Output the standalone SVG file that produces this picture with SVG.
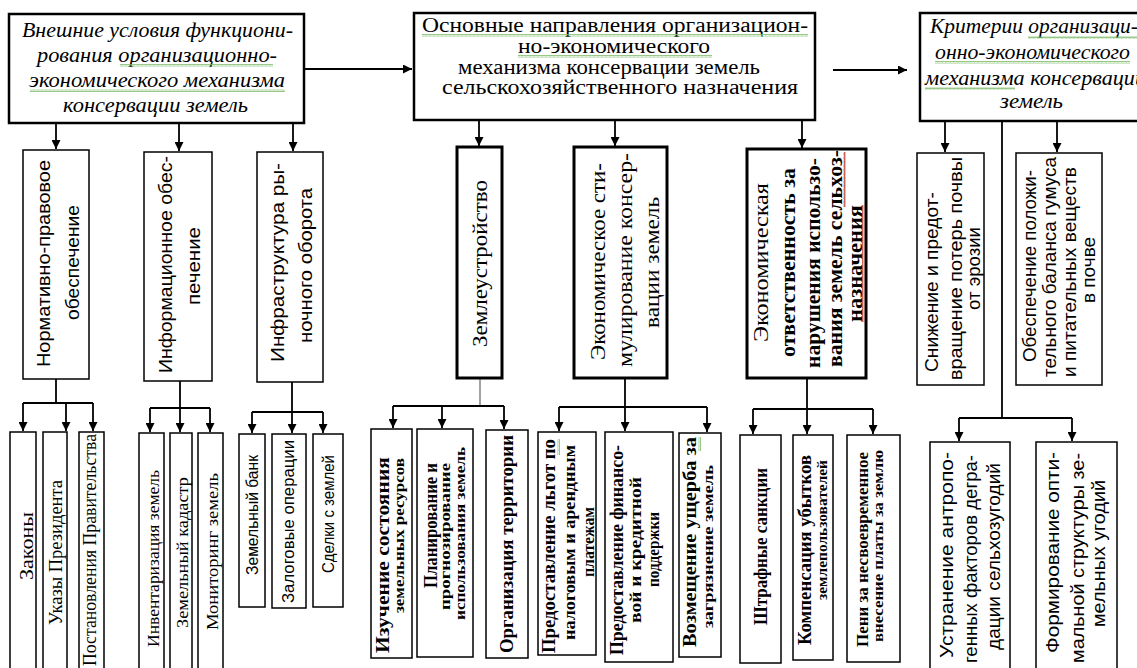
<svg xmlns="http://www.w3.org/2000/svg" width="1137" height="668" viewBox="0 0 1137 668">
<defs>
<style>
.bx{fill:#fff;stroke:#000;stroke-width:1.5}
.bt{fill:#fff;stroke:#000;stroke-width:2.5}
.bm{fill:#fff;stroke:#000;stroke-width:3}
.cn line{stroke:#000;stroke-width:1.8;fill:none}
.cn .g{stroke:#666;stroke-width:1.2}
.ar{marker-end:url(#ah)}
text{text-anchor:start;fill:#000}
.it{font-family:"Liberation Serif","Times New Roman",serif;font-style:italic;font-size:20px}
.sr{font-family:"Liberation Serif","Times New Roman",serif;font-style:normal;font-size:20px}
.ss{font-family:"Liberation Sans",Arial,sans-serif;font-size:19px}
.v{dominant-baseline:central}
.b{font-weight:bold}
.m{text-anchor:middle}
</style>
<marker id="ah" viewBox="0 0 10 10" refX="10" refY="5" markerWidth="9" markerHeight="9" markerUnits="userSpaceOnUse" orient="auto"><path d="M0,0 L10,5 L0,10 z" fill="#000"/></marker>
<pattern id="wg" width="4" height="3" patternUnits="userSpaceOnUse"><path d="M0,2.5 L1,0.5 L2,2.5 L3,0.5 L4,2.5" stroke="#7cba6a" stroke-width="0.8" fill="none"/></pattern>
<pattern id="wgv" width="3" height="4" patternUnits="userSpaceOnUse"><path d="M0.5,0 L2.5,1 L0.5,2 L2.5,3 L0.5,4" stroke="#7cba6a" stroke-width="0.8" fill="none"/></pattern>
<pattern id="wrv" width="3" height="4" patternUnits="userSpaceOnUse"><path d="M0.5,0 L2.5,1 L0.5,2 L2.5,3 L0.5,4" stroke="#c0392b" stroke-width="0.8" fill="none"/></pattern>
</defs>
<rect width="1137" height="668" fill="#fff"/>

<g id="connectors" class="cn">
<line class="ar" x1="304" y1="69" x2="412" y2="69"/>
<line class="ar" x1="833" y1="70" x2="907" y2="70"/>
<line class="ar" x1="56" y1="123" x2="56" y2="149"/>
<line class="ar" x1="179" y1="123" x2="179" y2="151"/>
<line class="ar" x1="293" y1="123" x2="293" y2="151"/>
<line class="ar" x1="479" y1="120" x2="479" y2="146"/>
<line class="ar" x1="615" y1="120" x2="615" y2="146"/>
<line class="ar" x1="802" y1="120" x2="802" y2="148"/>
<line class="ar" x1="945" y1="121" x2="945" y2="152"/>
<line class="ar" x1="1057" y1="121" x2="1057" y2="152"/>
<line x1="1002" y1="121" x2="1002" y2="418"/>
<line x1="959" y1="418" x2="1072" y2="418"/>
<line class="ar" x1="959" y1="418" x2="959" y2="441"/>
<line class="ar" x1="1072" y1="418" x2="1072" y2="441"/>
<line x1="56" y1="379" x2="56" y2="403"/>
<line x1="23" y1="403" x2="93" y2="403"/>
<line class="ar" x1="23" y1="403" x2="23" y2="431"/>
<line class="ar" x1="66" y1="403" x2="66" y2="431"/>
<line class="ar" x1="93" y1="403" x2="93" y2="431"/>
<line x1="180" y1="381" x2="180" y2="408"/>
<line x1="150" y1="408" x2="210" y2="408"/>
<line class="ar" x1="150" y1="408" x2="150" y2="432"/>
<line class="ar" x1="180" y1="408" x2="180" y2="432"/>
<line class="ar" x1="210" y1="408" x2="210" y2="432"/>
<line x1="292" y1="382" x2="292" y2="412"/>
<line x1="252" y1="412" x2="323" y2="412"/>
<line class="ar" x1="252" y1="412" x2="252" y2="433"/>
<line class="ar" x1="292" y1="412" x2="292" y2="433"/>
<line class="ar" x1="323" y1="412" x2="323" y2="433"/>
<line class="g" x1="480" y1="378" x2="480" y2="406"/>
<line x1="393" y1="406" x2="504" y2="406"/>
<line class="ar" x1="393" y1="406" x2="393" y2="428"/>
<line class="ar" x1="442" y1="406" x2="442" y2="428"/>
<line class="ar" x1="504" y1="406" x2="504" y2="429"/>
<line x1="625" y1="378" x2="625" y2="407"/>
<line x1="559" y1="407" x2="707" y2="407"/>
<line class="ar" x1="559" y1="407" x2="559" y2="431"/>
<line class="ar" x1="625" y1="407" x2="625" y2="431"/>
<line class="ar" x1="707" y1="407" x2="707" y2="432"/>
<line x1="807" y1="378" x2="807" y2="409"/>
<line x1="753" y1="409" x2="873" y2="409"/>
<line class="ar" x1="753" y1="409" x2="753" y2="434"/>
<line class="ar" x1="807" y1="409" x2="807" y2="434"/>
<line class="ar" x1="873" y1="409" x2="873" y2="434"/>
</g>

<g id="n-external">
<rect class="bt" x="9" y="14" width="295" height="109"/>
<text class="it" x="22" y="37" textLength="271" lengthAdjust="spacingAndGlyphs">Внешние условия функциони-</text>
<text class="it" x="37" y="62" textLength="240" lengthAdjust="spacingAndGlyphs">рования организационно-</text>
<text class="it" x="29" y="87" textLength="256" lengthAdjust="spacingAndGlyphs">экономического механизма</text>
<text class="it" x="63" y="112" textLength="185" lengthAdjust="spacingAndGlyphs">консервации земель</text>
<rect x="120" y="64" width="153" height="3" fill="url(#wg)"/>
<rect x="30" y="89" width="255" height="3" fill="url(#wg)"/>
</g>

<g id="n-main">
<rect class="bt" x="414" y="13" width="401" height="107"/>
<text class="sr" x="422" y="32" textLength="386" lengthAdjust="spacingAndGlyphs">Основные направления организацион-</text>
<text class="sr" x="518" y="53" textLength="192" lengthAdjust="spacingAndGlyphs">но-экономического</text>
<text class="sr" x="458" y="74" textLength="302" lengthAdjust="spacingAndGlyphs">механизма консервации земель</text>
<text class="sr" x="442" y="94" textLength="356" lengthAdjust="spacingAndGlyphs">сельскохозяйственного назначения</text>
<rect x="422" y="34" width="386" height="3" fill="url(#wg)"/>
<rect x="518" y="55" width="194" height="3" fill="url(#wg)"/>
</g>

<g id="n-criteria">
<rect class="bt" x="920" y="13" width="230" height="108"/>
<text class="it" x="930" y="33" textLength="208" lengthAdjust="spacingAndGlyphs">Критерии организаци-</text>
<text class="it" x="935" y="59" textLength="195" lengthAdjust="spacingAndGlyphs">онно-экономического</text>
<text class="it" x="925" y="85" textLength="221" lengthAdjust="spacingAndGlyphs">механизма консервации</text>
<text class="it" x="1000" y="108" textLength="63" lengthAdjust="spacingAndGlyphs">земель</text>
<rect x="1028" y="36" width="110" height="3" fill="url(#wg)"/>
<rect x="935" y="61" width="195" height="3" fill="url(#wg)"/>
<rect x="925" y="87" width="90" height="3" fill="url(#wg)"/>
</g>

<g id="n-norm">
<rect class="bx" x="23" y="150" width="66" height="229"/>
<text class="ss v" transform="translate(43,367) rotate(-90)" textLength="207" lengthAdjust="spacingAndGlyphs">Нормативно-правовое</text>
<text class="ss v" transform="translate(72,320) rotate(-90)" textLength="115" lengthAdjust="spacingAndGlyphs">обеспечение</text>
</g>
<g id="n-info">
<rect class="bx" x="144" y="152" width="68" height="229"/>
<text class="ss v" transform="translate(165,373) rotate(-90)" textLength="217" lengthAdjust="spacingAndGlyphs">Информационное обес-</text>
<text class="ss v" transform="translate(193,305) rotate(-90)" textLength="78" lengthAdjust="spacingAndGlyphs">печение</text>
</g>
<g id="n-infra">
<rect class="bx" x="257" y="152" width="66" height="230"/>
<text class="ss v" transform="translate(277,362) rotate(-90)" textLength="199" lengthAdjust="spacingAndGlyphs">Инфраструктура ры-</text>
<text class="ss v" transform="translate(305,343) rotate(-90)" textLength="155" lengthAdjust="spacingAndGlyphs">ночного оборота</text>
</g>

<g id="n-zemleustr">
<rect class="bm" x="457" y="147" width="45" height="231"/>
<text class="sr v" style="font-size:21px" transform="translate(480,347) rotate(-90)" textLength="167" lengthAdjust="spacingAndGlyphs">Землеустройство</text>
</g>
<g id="n-stim">
<rect class="bm" x="574" y="147" width="93" height="231"/>
<text class="sr v" transform="translate(598,360) rotate(-90)" textLength="197" lengthAdjust="spacingAndGlyphs">Экономическое сти-</text>
<text class="sr v" transform="translate(625,367) rotate(-90)" textLength="214" lengthAdjust="spacingAndGlyphs">мулирование консер-</text>
<text class="sr v" transform="translate(652,328) rotate(-90)" textLength="131" lengthAdjust="spacingAndGlyphs">вации земель</text>
</g>
<g id="n-otv">
<rect class="bm" x="747" y="149" width="119" height="229"/>
<text class="sr v" transform="translate(761,342) rotate(-90)" textLength="159" lengthAdjust="spacingAndGlyphs">Экономическая</text>
<text class="sr v b" transform="translate(788,357) rotate(-90)" textLength="189" lengthAdjust="spacingAndGlyphs">ответственность за</text>
<text class="sr v b" transform="translate(813,368) rotate(-90)" textLength="210" lengthAdjust="spacingAndGlyphs">нарушения использо-</text>
<text class="sr v b" transform="translate(835,367) rotate(-90)" textLength="217" lengthAdjust="spacingAndGlyphs">вания земель сельхоз-</text>
<text class="sr v b" transform="translate(855,322) rotate(-90)" textLength="117" lengthAdjust="spacingAndGlyphs">назначения</text>
<rect x="843" y="152" width="3" height="55" fill="url(#wrv)"/>
<rect x="862" y="205" width="3" height="117" fill="url(#wrv)"/>
</g>

<g id="n-erosion">
<rect class="bx" x="917" y="153" width="67" height="232"/>
<text class="ss v" transform="translate(931,372) rotate(-90)" textLength="180" lengthAdjust="spacingAndGlyphs">Снижение и предот-</text>
<text class="ss v" transform="translate(955,380) rotate(-90)" textLength="223" lengthAdjust="spacingAndGlyphs">вращение потерь почвы</text>
<text class="ss v" transform="translate(973,310) rotate(-90)" textLength="83" lengthAdjust="spacingAndGlyphs">от эрозии</text>
</g>
<g id="n-humus">
<rect class="bx" x="1016" y="153" width="86" height="232"/>
<text class="ss v" transform="translate(1029,362) rotate(-90)" textLength="192" lengthAdjust="spacingAndGlyphs">Обеспечение положи-</text>
<text class="ss v" transform="translate(1049,377) rotate(-90)" textLength="220" lengthAdjust="spacingAndGlyphs">тельного баланса гумуса</text>
<text class="ss v" transform="translate(1069,377) rotate(-90)" textLength="210" lengthAdjust="spacingAndGlyphs">и питательных веществ</text>
<text class="ss v m" transform="translate(1088,270) rotate(-90)">в почве</text>
</g>

<g id="n-zakony">
<rect class="bx" x="10" y="432" width="26" height="260"/>
<text class="sr v" style="font-size:18px" transform="translate(26.5,580) rotate(-90)" textLength="68" lengthAdjust="spacingAndGlyphs">Законы</text>
</g>
<g id="n-ukazy">
<rect class="bx" x="43" y="432" width="24" height="260"/>
<text class="sr v" style="font-size:18px" transform="translate(56,625) rotate(-90)" textLength="145" lengthAdjust="spacingAndGlyphs">Указы Президента</text>
</g>
<g id="n-postanov">
<rect class="bx" x="79" y="432" width="25" height="260"/>
<text class="sr v" style="font-size:18px" transform="translate(90,666) rotate(-90)" textLength="232" lengthAdjust="spacingAndGlyphs">Постановления Правительства</text>
</g>

<g id="n-invent">
<rect class="bx" x="139" y="433" width="25" height="260"/>
<text class="sr v" style="font-size:17px" transform="translate(153,647) rotate(-90)" textLength="177" lengthAdjust="spacingAndGlyphs">Инвентаризация земель</text>
</g>
<g id="n-kadastr">
<rect class="bx" x="170" y="433" width="22" height="260"/>
<text class="sr v" style="font-size:17px" transform="translate(182,628) rotate(-90)" textLength="151" lengthAdjust="spacingAndGlyphs">Земельный кадастр</text>
</g>
<g id="n-monitor">
<rect class="bx" x="198" y="433" width="25" height="260"/>
<text class="sr v" style="font-size:17px" transform="translate(212,630) rotate(-90)" textLength="157" lengthAdjust="spacingAndGlyphs">Мониторинг земель</text>
</g>

<g id="n-bank">
<rect class="bx" x="239" y="434" width="26" height="173"/>
<text class="ss v" style="font-size:16px" transform="translate(252,575) rotate(-90)" textLength="120" lengthAdjust="spacingAndGlyphs">Земельный банк</text>
</g>
<g id="n-zalog">
<rect class="bx" x="272" y="434" width="34" height="174"/>
<text class="ss v" style="font-size:16px" transform="translate(288,603) rotate(-90)" textLength="163" lengthAdjust="spacingAndGlyphs">Залоговые операции</text>
</g>
<g id="n-sdelki">
<rect class="bx" x="313" y="434" width="30" height="173"/>
<text class="ss v" style="font-size:16px" transform="translate(328,573) rotate(-90)" textLength="118" lengthAdjust="spacingAndGlyphs">Сделки с землей</text>
</g>

<g id="n-izuch">
<rect class="bx" x="371" y="429" width="41" height="229"/>
<text class="sr v b" style="font-size:19px" transform="translate(382,653) rotate(-90)" textLength="196" lengthAdjust="spacingAndGlyphs">Изучение состояния</text>
<text class="sr v b" style="font-size:15px" transform="translate(399,613) rotate(-90)" textLength="155" lengthAdjust="spacingAndGlyphs">земельных ресурсов</text>
</g>
<g id="n-plan">
<rect class="bx" x="417" y="429" width="56" height="228"/>
<text class="sr v b" style="font-size:19px" transform="translate(430,588) rotate(-90)" textLength="125" lengthAdjust="spacingAndGlyphs">Планирование и</text>
<text class="sr v b" style="font-size:15px" transform="translate(445,610) rotate(-90)" textLength="147" lengthAdjust="spacingAndGlyphs">прогнозирование</text>
<text class="sr v b" style="font-size:15px" transform="translate(460,620) rotate(-90)" textLength="173" lengthAdjust="spacingAndGlyphs">использования земель</text>
</g>
<g id="n-organiz">
<rect class="bx" x="486" y="430" width="42" height="228"/>
<text class="sr v b" style="font-size:18px" transform="translate(507,653) rotate(-90)" textLength="218" lengthAdjust="spacingAndGlyphs">Организация территории</text>
</g>

<g id="n-lgoty">
<rect class="bx" x="538" y="432" width="58" height="223"/>
<text class="sr v b" style="font-size:19px" transform="translate(548,653) rotate(-90)" textLength="214" lengthAdjust="spacingAndGlyphs">Предоставление льгот по</text>
<text class="sr v b" style="font-size:16px" transform="translate(569,640) rotate(-90)" textLength="195" lengthAdjust="spacingAndGlyphs">налоговым и арендным</text>
<text class="sr v b" style="font-size:16px" transform="translate(588,577) rotate(-90)" textLength="70" lengthAdjust="spacingAndGlyphs">платежам</text>
<rect x="557" y="439" width="3" height="16" fill="url(#wgv)"/>
</g>
<g id="n-finans">
<rect class="bx" x="605" y="432" width="68" height="230"/>
<text class="sr v b" style="font-size:18px" transform="translate(617,655) rotate(-90)" textLength="210" lengthAdjust="spacingAndGlyphs">Предоставление финансо-</text>
<text class="sr v b" style="font-size:17px" transform="translate(635,623) rotate(-90)" textLength="146" lengthAdjust="spacingAndGlyphs">вой и кредитной</text>
<text class="sr v b" style="font-size:17px" transform="translate(653,587) rotate(-90)" textLength="75" lengthAdjust="spacingAndGlyphs">поддержки</text>
</g>
<g id="n-vozmesh">
<rect class="bx" x="679" y="433" width="42" height="224"/>
<text class="sr v b" style="font-size:18px" transform="translate(690,647) rotate(-90)" textLength="210" lengthAdjust="spacingAndGlyphs">Возмещение ущерба за</text>
<text class="sr v b" style="font-size:15px" transform="translate(708,628) rotate(-90)" textLength="163" lengthAdjust="spacingAndGlyphs">загрязнение земель</text>
<rect x="698" y="437" width="3" height="14" fill="url(#wgv)"/>
</g>

<g id="n-shtraf">
<rect class="bx" x="740" y="435" width="41" height="228"/>
<text class="sr v b" style="font-size:19px" transform="translate(760,625) rotate(-90)" textLength="157" lengthAdjust="spacingAndGlyphs">Штрафные санкции</text>
</g>
<g id="n-kompens">
<rect class="bx" x="793" y="435" width="40" height="225"/>
<text class="sr v b" style="font-size:18px" transform="translate(805,645) rotate(-90)" textLength="190" lengthAdjust="spacingAndGlyphs">Компенсация убытков</text>
<text class="sr v b" style="font-size:15px" transform="translate(822,600) rotate(-90)" textLength="140" lengthAdjust="spacingAndGlyphs">землепользователей</text>
</g>
<g id="n-peni">
<rect class="bx" x="847" y="435" width="53" height="227"/>
<text class="sr v b" style="font-size:17px" transform="translate(862,647) rotate(-90)" textLength="195" lengthAdjust="spacingAndGlyphs">Пени за несвоевременное</text>
<text class="sr v b" style="font-size:15px" transform="translate(878,642) rotate(-90)" textLength="192" lengthAdjust="spacingAndGlyphs">внесение платы за землю</text>
</g>

<g id="n-antrop">
<rect class="bx" x="930" y="442" width="80" height="250"/>
<text class="ss v" transform="translate(946,658) rotate(-90)" textLength="206" lengthAdjust="spacingAndGlyphs">Устранение антропо-</text>
<text class="ss v" transform="translate(970,663) rotate(-90)" textLength="208" lengthAdjust="spacingAndGlyphs">генных факторов дегра-</text>
<text class="ss v" transform="translate(993,650) rotate(-90)" textLength="187" lengthAdjust="spacingAndGlyphs">дации сельхозугодий</text>
</g>
<g id="n-struktura">
<rect class="bx" x="1036" y="442" width="81" height="250"/>
<text class="ss v" transform="translate(1052,653) rotate(-90)" textLength="201" lengthAdjust="spacingAndGlyphs">Формирование опти-</text>
<text class="ss v" transform="translate(1077,663) rotate(-90)" textLength="210" lengthAdjust="spacingAndGlyphs">мальной структуры зе-</text>
<text class="ss v" transform="translate(1098,627) rotate(-90)" textLength="147" lengthAdjust="spacingAndGlyphs">мельных угодий</text>
</g>
</svg>
